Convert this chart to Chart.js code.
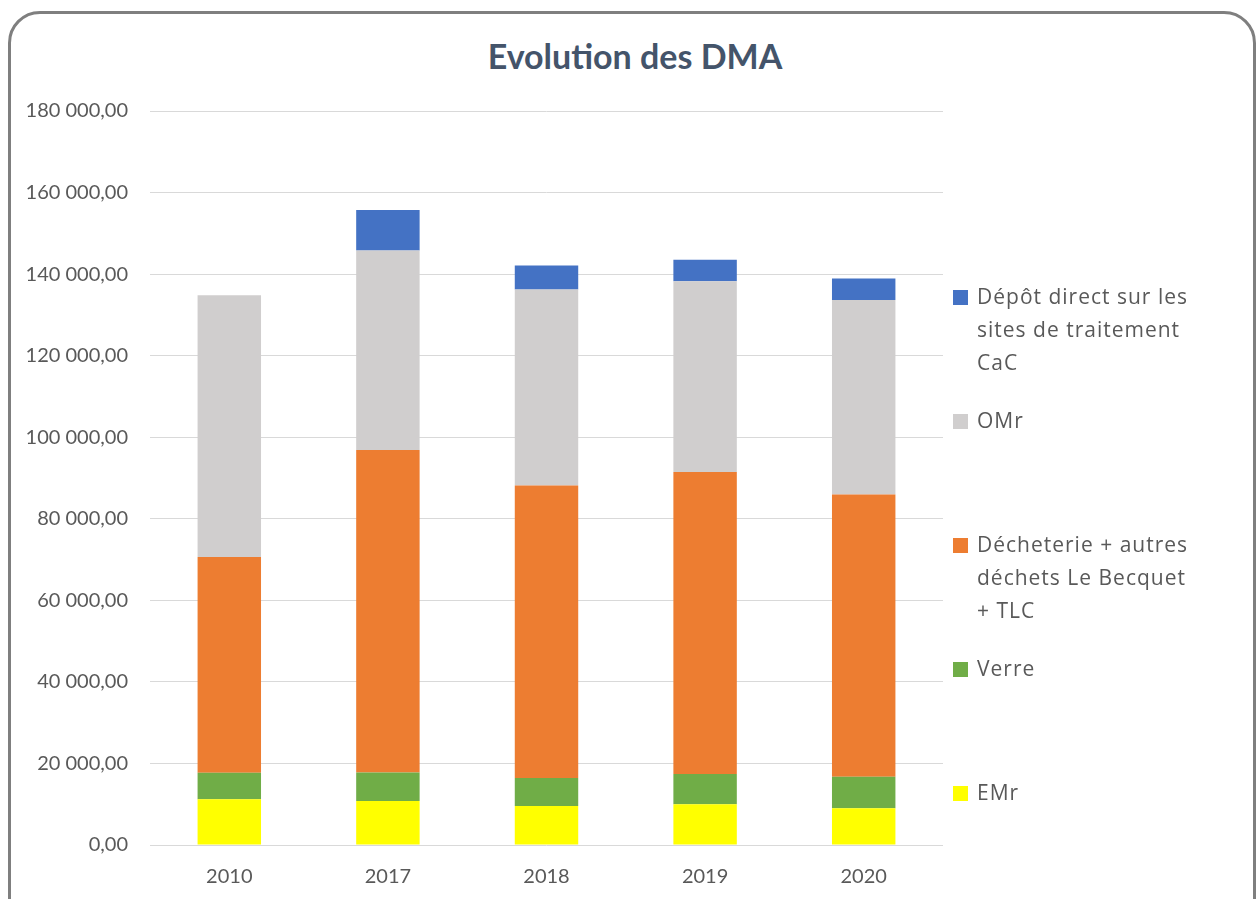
<!DOCTYPE html>
<html>
<head>
<meta charset="utf-8">
<script src="https://cdn.jsdelivr.net/npm/chart.js@4.4.1/dist/chart.umd.min.js"></script>
<style>
  html, body { margin: 0; padding: 0; background: #ffffff; width: 1260px; height: 899px; overflow: hidden; }
  #frame { position: absolute; left: 8px; top: 11px; width: 1248px; height: 940px; border: 3px solid #7f7f7f; border-radius: 32px; box-sizing: border-box; }
  #title { position: absolute; left: 0; width: 1270px; top: 35px; text-align: center; font-family: Lato, "Open Sans", sans-serif; font-weight: bold; font-size: 34px; color: #44546a; }
  #wrap { position: absolute; left: 0; top: 0; width: 1260px; height: 899px; }
  #legend { position: absolute; left: 0; top: 0; }
  .item { position: absolute; left: 953px; font-family: "Open Sans", sans-serif; font-size: 21px; letter-spacing: 1px; line-height: 33px; color: #595959; }
  .sw { position: absolute; left: 0; top: 10px; width: 15px; height: 15px; }
  .tx { position: absolute; left: 24px; top: 0; width: 226px; }
</style>
</head>
<body>
<div id="frame"></div>
<div id="title">Evolution des DMA</div>
<div id="wrap"><canvas id="c" width="1260" height="899"></canvas></div>
<div id="legend"></div>
<script>
const categories = ["2010", "2017", "2018", "2019", "2020"];
const seriesNames = ["EMr", "Verre", "Décheterie + autres déchets Le Becquet + TLC", "OMr", "Dépôt direct sur les sites de traitement CaC"];
const emr = [11200, 10800, 9550, 10000, 9000];
const verre = [6500, 6950, 6900, 7400, 7750];
const decheterie = [52900, 79100, 71700, 74100, 69200];
const omr = [64200, 48950, 48050, 46750, 47700];
const depot = [0, 9900, 5900, 5300, 5250];
const seriesColors = ["#FFFF00", "#70AD47", "#ED7D31", "#D0CECE", "#4472C4"];
const yMin = 0, yMax = 180000, yStep = 20000;

const seriesValues = [emr, verre, decheterie, omr, depot];

function fmt(v) {
  const s = Math.round(v).toString().replace(/\B(?=(\d{3})+(?!\d))/g, " ");
  return s + ",00";
}

const ctx = document.getElementById("c").getContext("2d");
new Chart(ctx, {
  type: "bar",
  data: {
    labels: categories,
    datasets: seriesNames.map((n, i) => ({
      label: n,
      data: seriesValues[i],
      backgroundColor: seriesColors[i],
      borderWidth: 0,
      categoryPercentage: 1.0,
      barPercentage: 0.4
    }))
  },
  options: {
    responsive: false,
    animation: false,
    layout: { padding: { left: 0, right: 317, top: 111, bottom: 0 } },
    plugins: { legend: { display: false }, title: { display: false }, tooltip: { enabled: false } },
    scales: {
      x: {
        stacked: true,
        grid: { display: false, drawTicks: false },
        border: { display: false },
        ticks: { color: "#595959", font: { family: "Lato, 'Open Sans', sans-serif", size: 20 }, padding: 20 },
        afterFit: (s) => { s.height = 54; }
      },
      y: {
        stacked: true,
        min: yMin, max: yMax,
        grid: { color: "#d9d9d9", lineWidth: 1, drawTicks: false },
        border: { display: false },
        ticks: { stepSize: yStep, color: "#595959", font: { family: "Lato, 'Open Sans', sans-serif", size: 20 }, padding: 22, callback: (v) => fmt(v) },
        afterFit: (s) => { s.width = 150; }
      }
    }
  }
});

// HTML legend (reverse order, like Excel)
const legend = document.getElementById("legend");
const order = [4, 3, 2, 1, 0];
order.forEach((idx, k) => {
  const it = document.createElement("div");
  it.className = "item";
  it.style.top = (280 + k * 124) + "px";
  const sw = document.createElement("div");
  sw.className = "sw";
  sw.style.background = seriesColors[idx];
  const tx = document.createElement("div");
  tx.className = "tx";
  tx.textContent = seriesNames[idx];
  it.appendChild(sw);
  it.appendChild(tx);
  legend.appendChild(it);
});
</script>
</body>
</html>
